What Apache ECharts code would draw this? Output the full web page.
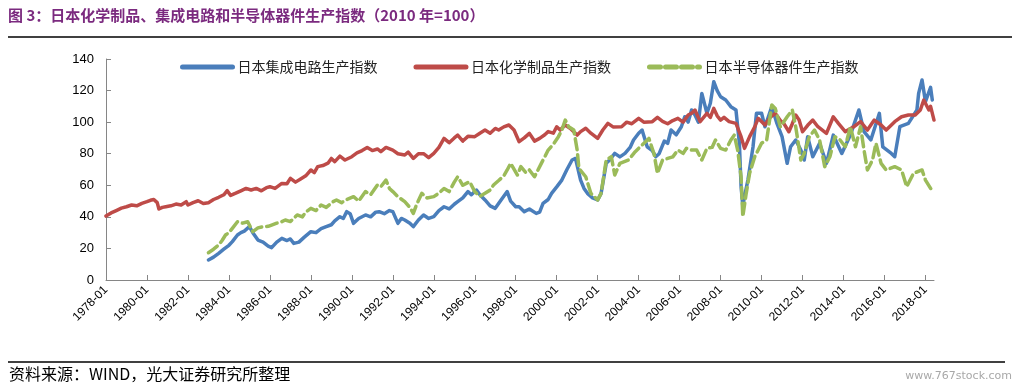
<!DOCTYPE html>
<html>
<head>
<meta charset="utf-8">
<script src="https://cdn.jsdelivr.net/npm/echarts@6/dist/echarts.min.js"></script>
<style>
html,body{margin:0;padding:0;background:#fff;}
#chart{width:1022px;height:391px;}
</style>
</head>
<body>
<div id="chart"></div>
<script>
// ---- Data ----
const titleText = '图 3：日本化学制品、集成电路和半导体器件生产指数（2010 年=100）';
const sourceText = '资料来源：WIND，光大证券研究所整理';
const watermarkText = 'www.767stock.com';
const seriesNames = ['日本集成电路生产指数', '日本化学制品生产指数', '日本半导体器件生产指数'];
const yTicks = [0, 20, 40, 60, 80, 100, 120, 140];

const icData = [
['1983-01',12.7],['1983-04',14.5],['1983-07',16.9],['1983-10',19.5],['1984-01',22],['1984-03',24.3],
['1984-06',28.5],['1984-08',30],['1984-10',31],['1985-01',33.8],['1985-03',30],['1985-06',25.3],
['1985-09',24],['1985-12',21.5],['1986-02',20.5],['1986-05',24],['1986-08',26.4],['1986-11',25],
['1987-01',26],['1987-03',23.2],['1987-06',24],['1987-09',27],['1988-01',30.6],['1988-04',30],
['1988-07',32.5],['1988-10',33.8],['1989-01',35],['1989-03',37.5],['1989-06',40.1],['1989-08',39],
['1989-10',43.3],['1989-12',42],['1990-02',35.9],['1990-05',39],['1990-09',41.2],['1990-12',40],
['1991-03',43],['1991-05',43.3],['1991-08',42],['1991-11',44],['1992-01',43.3],['1992-04',35.9],
['1992-06',39],['1992-08',38],['1992-11',36],['1993-01',33.8],['1993-04',38],['1993-07',41.2],
['1993-10',39],['1994-01',40.1],['1994-04',44],['1994-07',46.4],['1994-10',45],['1995-01',48],
['1995-03',49.6],['1995-06',52],['1995-09',56],['1995-11',54],['1996-02',57],['1996-04',54],
['1996-07',50.7],['1996-10',47],['1997-01',45.4],['1997-04',50],['1997-06',53],['1997-08',56],
['1997-10',50],['1998-01',46.4],['1998-03',46.4],['1998-06',43.3],['1998-09',45],['1999-01',42.2],
['1999-03',43],['1999-05',48.5],['1999-08',51],['1999-10',54.9],['2000-01',59],['2000-04',63.3],
['2000-07',70],['2000-10',76],['2000-12',77],['2001-03',63.3],['2001-05',58],['2001-07',54.9],
['2001-10',52],['2002-01',50.7],['2002-03',54.9],['2002-06',73.9],['2002-08',76],['2002-11',80.2],
['2003-02',78],['2003-05',80.2],['2003-08',84],['2003-10',88.7],['2004-01',93],['2004-03',95],
['2004-06',84.4],['2004-09',82],['2004-11',78.1],['2005-01',80],['2005-04',88],['2005-06',86.6],
['2005-08',95],['2005-11',92],['2006-02',97.1],['2006-04',103.4],['2006-06',100],['2006-08',107.7],
['2006-10',104.5],['2006-12',100],['2007-02',118.2],['2007-05',105.6],['2007-07',112],['2007-09',125.6],
['2007-11',120],['2008-01',116.1],['2008-04',114],['2008-07',109.8],['2008-10',107.7],['2008-12',86.6],
['2009-01',59.1],['2009-02',47],['2009-03',52.8],['2009-05',63.3],['2009-08',84.4],['2009-10',105.6],
['2010-01',105.6],['2010-03',97.1],['2010-07',109.8],['2010-10',99.2],['2011-01',90.8],['2011-04',73.9],
['2011-06',84.4],['2011-09',88.7],['2011-12',82.3],['2012-02',76],['2012-04',90.8],['2012-07',78.1],
['2012-11',86.6],['2013-03',73.9],['2013-07',91.8],['2013-12',80.2],['2014-05',91.8],['2014-10',107.7],
['2015-01',94],['2015-05',88.7],['2015-10',105.6],['2015-12',84.4],['2016-05',80.2],['2016-07',78.1],
['2016-10',97.1],['2017-03',99.2],['2017-08',107.7],['2017-09',118.2],['2017-11',126.7],['2018-01',113],
['2018-04',122],['2018-05',114]
];

const chemData = [
['1978-01',40.5],['1978-04',42.5],['1978-07',44],['1978-10',45.5],['1979-01',46.4],['1979-04',47.5],
['1979-07',47],['1979-10',48.5],['1980-01',49.6],['1980-03',50.5],['1980-05',51],['1980-07',49],
['1980-08',45],['1980-10',46],['1980-12',46.4],['1981-03',47],['1981-06',48.1],['1981-09',47.5],
['1981-12',49.6],['1982-01',47.5],['1982-04',49],['1982-07',50.2],['1982-10',48.5],['1983-01',49],
['1983-04',51],['1983-07',52.4],['1983-10',54],['1983-12',56.6],['1984-02',53.6],['1984-05',55],
['1984-08',56.5],['1984-11',58],['1985-02',57],['1985-05',58],['1985-08',56.5],['1985-11',58.5],
['1986-01',59.1],['1986-04',58],['1986-08',61.2],['1986-11',61],['1987-01',64.4],['1987-04',62],
['1987-07',64],['1987-10',66],['1988-01',69.7],['1988-03',68],['1988-05',71.8],['1988-08',72.5],
['1988-11',74],['1989-01',77],['1989-03',75],['1989-06',78.5],['1989-09',76],['1990-01',78.1],
['1990-04',80.5],['1990-07',82],['1990-10',84],['1991-01',82],['1991-04',83],['1991-06',81.3],
['1991-09',84],['1992-01',82.3],['1992-04',80],['1992-08',79.2],['1992-10',81],['1993-01',77],
['1993-04',80],['1993-07',80],['1993-10',77.5],['1994-01',80.2],['1994-04',84],['1994-07',89.7],
['1994-10',87],['1995-01',90],['1995-03',91.8],['1995-06',88],['1995-09',91],['1996-01',90.8],
['1996-04',93],['1996-07',95],['1996-10',93],['1997-01',96],['1997-03',95],['1997-06',97],
['1997-09',98.2],['1997-12',95],['1998-03',87.6],['1998-06',90],['1998-09',92.9],['1998-12',88],
['1999-03',89.7],['1999-06',92],['1999-08',94],['1999-11',93],['2000-01',97.1],['2000-03',95],
['2000-06',98.2],['2000-09',96],['2001-01',91.8],['2001-03',94],['2001-06',96.1],['2001-09',93],
['2002-01',89.7],['2002-04',95],['2002-07',99.2],['2002-10',97],['2003-03',97.1],['2003-06',100],
['2003-09',99],['2004-01',102.4],['2004-04',100],['2004-09',100.3],['2004-12',103],['2005-03',100.5],
['2005-06',99],['2005-09',101],['2005-12',102.4],['2006-03',100],['2006-06',104.5],['2006-08',105.6],
['2006-10',107.7],['2007-01',100.3],['2007-05',105.6],['2007-07',103],['2007-09',108.7],['2007-11',104],
['2008-01',101.3],['2008-03',103],['2008-06',100.3],['2008-10',99.2],['2009-01',90.8],['2009-03',83.4],
['2009-06',90.8],['2009-09',97],['2009-11',102.4],['2010-03',98.2],['2010-06',103],['2010-09',105.6],
['2010-12',101],['2011-02',99.2],['2011-05',93.9],['2011-07',99],['2011-09',104.5],['2011-11',101.3],
['2012-01',93.9],['2012-04',98],['2012-07',101.3],['2012-10',97.1],['2013-03',92.9],['2013-07',103.4],
['2013-10',99.2],['2014-02',94],['2014-07',97.1],['2014-11',100.3],['2015-03',95],['2015-07',101.3],
['2015-11',98.2],['2016-02',95],['2016-07',100.3],['2016-11',103.4],['2017-03',104.5],['2017-07',104.5],
['2017-10',107.7],['2017-12',114],['2018-03',107.7],['2018-04',110],['2018-06',101.3]
];

const semiData = [
['1983-01',17.3],['1983-04',19.5],['1983-07',22.2],['1983-09',25],['1983-11',28.5],['1984-01',30],
['1984-03',32.7],['1984-06',36.9],['1984-09',36],['1984-12',36.9],['1985-03',30.6],['1985-06',33],
['1985-09',33.8],['1985-12',34],['1986-02',34.8],['1986-05',36],['1986-08',37],['1986-10',38],
['1987-01',37],['1987-05',41.2],['1987-08',40],['1987-10',43],['1988-01',45.4],['1988-04',44],
['1988-07',47.5],['1988-10',46],['1989-02',49.6],['1989-04',50.7],['1989-07',49],['1989-10',51],
['1990-02',52.8],['1990-05',50],['1990-09',56],['1990-12',54],['1991-04',60.2],['1991-06',59.1],
['1991-09',63.3],['1991-11',58],['1992-01',56],['1992-04',52.8],['1992-08',49.6],['1992-11',46],
['1993-01',42.2],['1993-03',48],['1993-06',54.9],['1993-09',52],['1994-01',52.8],['1994-04',55],
['1994-07',58],['1994-10',56],['1995-01',62],['1995-03',65.4],['1995-06',60],['1995-10',62.3],
['1996-01',56],['1996-04',53],['1996-07',54.9],['1996-10',57],['1996-12',60.2],['1997-03',63],
['1997-06',66],['1997-08',69.7],['1997-10',73.9],['1998-02',66.5],['1998-04',71.8],['1998-07',68],
['1998-09',69.7],['1998-12',65.4],['1999-04',73.9],['1999-06',78],['1999-08',82.3],['1999-11',86],
['2000-02',90.8],['2000-04',95],['2000-06',101.3],['2000-08',97.1],['2000-11',95],['2001-01',82.3],
['2001-02',70.7],['2001-06',65.4],['2001-09',54.9],['2002-01',50.7],['2002-03',54.9],['2002-06',76],
['2002-09',78.1],['2002-11',66.5],['2003-02',73.9],['2003-07',76],['2003-11',81.3],['2004-03',85.5],
['2004-07',89.7],['2004-10',80],['2004-12',67.6],['2005-03',76],['2005-06',77],['2005-09',78],
['2005-12',82.3],['2006-03',80.2],['2006-05',83.4],['2006-08',82.3],['2006-11',82.3],['2007-02',76],
['2007-05',83.4],['2007-08',84],['2007-10',88.7],['2008-01',83.4],['2008-04',82.3],['2008-07',88.7],
['2008-09',91.8],['2008-11',82.3],['2009-01',65.4],['2009-02',40.1],['2009-04',54.9],['2009-06',67.6],
['2009-09',78.1],['2010-01',86.6],['2010-04',88.7],['2010-07',110.9],['2010-09',108.7],['2010-12',97.1],
['2011-04',103.4],['2011-07',107.7],['2011-09',97.1],['2011-12',76],['2012-02',80.2],['2012-05',90.8],
['2012-08',95],['2012-11',88.7],['2013-02',71.8],['2013-05',78.1],['2013-08',90.8],['2013-11',88.7],
['2014-02',84.4],['2014-05',97.1],['2014-08',84.4],['2014-11',97.1],['2015-01',82.3],['2015-03',69.7],
['2015-06',76],['2015-08',86.6],['2015-11',73.9],['2016-02',69.7],['2016-07',71.8],['2016-11',69.7],
['2017-02',59.1],['2017-06',67.6],['2017-11',69.7],['2018-01',63.3],['2018-04',58],['2018-06',57]
];

// ---- Monthly categories 1978-01 .. 2018-06 ----
const categories = [];
for (let y = 1978; y <= 2018; y++) {
  for (let m = 1; m <= 12; m++) {
    if (y === 2018 && m > 6) break;
    categories.push(y + '-' + (m < 10 ? '0' + m : '' + m));
  }
}

const colors = ['#4A7EBB', '#BE4B48', '#9BBB59'];
const chart = echarts.init(document.getElementById('chart'), null, {renderer: 'canvas'});
const axisGray = '#868686';

chart.setOption({
  animation: false,
  color: colors,
  grid: {left: 106, right: 88, top: 59, bottom: 111, containLabel: false},
  legend: {
    left: 175, top: 55,
    itemWidth: 50, itemHeight: 14, itemGap: 36,
    itemStyle: {opacity: 0},
    lineStyle: {width: 5},
    textStyle: {fontFamily: 'Noto Sans CJK SC', fontSize: 14, color: '#222'},
    data: seriesNames
  },
  xAxis: {
    type: 'category',
    data: categories,
    boundaryGap: false,
    axisLine: {lineStyle: {color: axisGray, width: 1}},
    axisTick: {inside: true, length: 5, interval: 23, lineStyle: {color: axisGray}},
    axisLabel: {interval: 23, rotate: 45, margin: 8, fontFamily: 'Liberation Sans', fontSize: 12, color: '#000'},
    splitLine: {show: false}
  },
  yAxis: {
    type: 'value',
    min: yTicks[0], max: yTicks[yTicks.length - 1], interval: 20,
    axisLine: {show: true, lineStyle: {color: axisGray, width: 1}},
    axisTick: {show: true, inside: true, length: 5, lineStyle: {color: axisGray}},
    axisLabel: {margin: 12, fontFamily: 'Liberation Sans', fontSize: 13, color: '#000'},
    splitLine: {show: false}
  },
  series: [
    {name: seriesNames[0], type: 'line', data: icData, showSymbol: false, symbol: 'none',
     lineStyle: {width: 3.5, color: colors[0], join: 'round', cap: 'round'}},
    {name: seriesNames[1], type: 'line', data: chemData, showSymbol: false, symbol: 'none',
     lineStyle: {width: 3.5, color: colors[1], join: 'round', cap: 'round'}},
    {name: seriesNames[2], type: 'line', data: semiData, showSymbol: false, symbol: 'none',
     lineStyle: {width: 3.5, color: colors[2], type: [11, 5], join: 'round', cap: 'round'}}
  ],
  graphic: [
    {type: 'text', left: 8, top: 8,
     style: {text: titleText, fontFamily: 'Noto Sans CJK SC', fontWeight: 'bold', fontSize: 15, fill: '#7B2A7F'}},
    {type: 'line', shape: {x1: 8, y1: 37, x2: 1012, y2: 37}, style: {stroke: '#000', lineWidth: 1.5}},
    {type: 'line', shape: {x1: 8, y1: 362, x2: 1005, y2: 362}, style: {stroke: '#000', lineWidth: 1.5}},
    {type: 'text', left: 9, top: 366,
     style: {text: sourceText, fontFamily: 'Noto Sans CJK SC', fontSize: 16, fill: '#000'}},
    {type: 'text', right: 10, top: 371,
     style: {text: watermarkText, fontFamily: 'DejaVu Sans', fontSize: 11, fill: '#A8A8A8'}}
  ]
});
</script>
</body>
</html>
